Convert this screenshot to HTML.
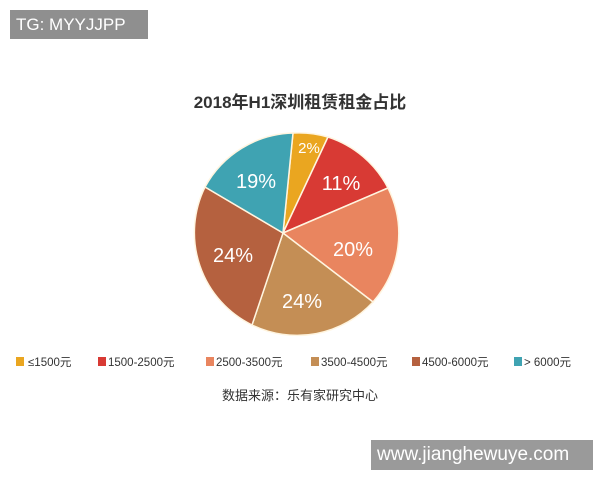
<!DOCTYPE html>
<html><head><meta charset="utf-8"><style>
body{margin:0;width:600px;height:480px;background:#fff;position:relative;overflow:hidden;font-family:"Liberation Sans","Noto Sans CJK SC",sans-serif}
.tg{position:absolute;left:10px;top:10px;width:138px;height:29px;background:#8f8f8f;color:#fff;font-size:17px;line-height:29px;padding-left:6px;box-sizing:border-box}
.ww{position:absolute;left:371px;top:440px;width:222px;height:30px;background:#9a9a9a;color:#fff;font-size:19px;line-height:30px;padding-left:6px;box-sizing:border-box}
</style></head><body>
<svg width="600" height="480" style="position:absolute;left:0;top:0">
<text x="300" y="108" text-anchor="middle" font-size="17" font-weight="bold" fill="#333">2018年H1深圳租赁租金占比</text>
<g stroke="#fff5e0" stroke-width="1.5">
<path d="M283,233 L293,133 A103,103 0 0 1 328,137 Z" fill="#eaa620"/>
<path d="M283,233 L328,137 A103,103 0 0 1 388,188 Z" fill="#d83a34"/>
<path d="M283,233 L388,188 A103,103 0 0 1 373,302 Z" fill="#e9855f"/>
<path d="M283,233 L373,302 A103,103 0 0 1 252,325 Z" fill="#c48e55"/>
<path d="M283,233 L252,325 A103,103 0 0 1 205,187 Z" fill="#b5613f"/>
<path d="M283,233 L205,187 A103,103 0 0 1 293,133 Z" fill="#3fa3b2"/>
</g>
<g fill="#fff" font-size="20" text-anchor="middle">
<text x="309" y="153" font-size="15">2%</text>
<text x="341" y="190">11%</text>
<text x="353" y="256">20%</text>
<text x="302" y="308">24%</text>
<text x="233" y="262">24%</text>
<text x="256" y="188">19%</text>
</g>
<g font-size="11.5" fill="#333">
<rect x="16" y="357" width="8" height="9" fill="#eaa620"/><text x="28" y="366">≤1500元</text>
<rect x="98" y="357" width="8" height="9" fill="#d83a34"/><text x="108" y="366">1500-2500元</text>
<rect x="206" y="357" width="8" height="9" fill="#e9855f"/><text x="216" y="366">2500-3500元</text>
<rect x="311" y="357" width="8" height="9" fill="#c48e55"/><text x="321" y="366">3500-4500元</text>
<rect x="412" y="357" width="8" height="9" fill="#b5613f"/><text x="422" y="366">4500-6000元</text>
<rect x="514" y="357" width="8" height="9" fill="#3fa3b2"/><text x="524" y="366">&gt; 6000元</text>
</g>
<text x="300" y="400" text-anchor="middle" font-size="13" fill="#333">数据来源：乐有家研究中心</text>
</svg>
<div class="tg">TG: MYYJJPP</div>
<div class="ww">www.jianghewuye.com</div>
</body></html>
